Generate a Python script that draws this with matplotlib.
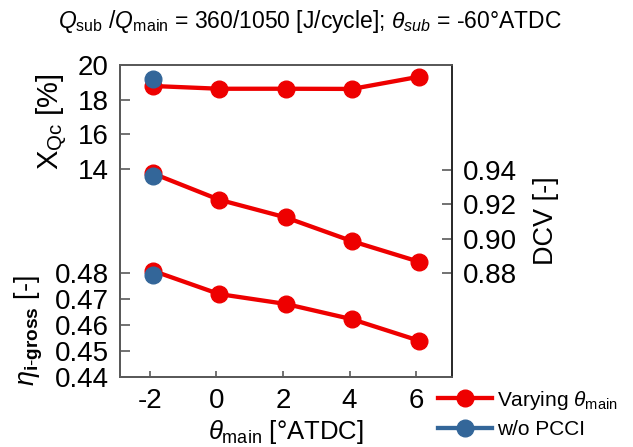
import matplotlib
matplotlib.use("Agg")
import matplotlib.pyplot as plt
from matplotlib.lines import Line2D

plt.rcParams['font.family'] = ['Liberation Sans', 'DejaVu Sans']
plt.rcParams['mathtext.fontset'] = 'custom'
plt.rcParams['mathtext.rm'] = 'Liberation Sans'
plt.rcParams['mathtext.it'] = 'Liberation Sans:italic'
plt.rcParams['mathtext.bf'] = 'Liberation Sans:bold'

# Data
theta_main = [-1.92, 0.08, 2.08, 4.08, 6.08]
xqc_vary = [18.79, 18.63, 18.63, 18.62, 19.32]
dcv_vary = [0.9381, 0.9227, 0.9124, 0.8985, 0.8866]
eta_vary = [0.4809, 0.4719, 0.4681, 0.4622, 0.4540]

theta_wo = [-1.92]
xqc_wo = [19.19]
dcv_wo = [0.9365]
eta_wo = [0.4791]

xticks = [-2, 0, 2, 4, 6]

RED = '#EE0000'
BLUE = '#336699'
SPINE = '#5A5A5A'

fig = plt.figure(figsize=(6.33, 4.47), dpi=100)
ax = fig.add_axes([120/633, 1 - 377/447, 332/633, 312/447])  # eta axis (left-bottom)
ax_x = ax.twinx()   # X_Qc axis (left-top)
ax_d = ax.twinx()   # DCV axis (right)

lw = 3.1
ms = 12

# eta
ax.plot(theta_main, eta_vary, '-o', color=RED, lw=lw, ms=ms, zorder=3)
ax.plot(theta_wo, eta_wo, 'o', color=BLUE, ms=ms, zorder=4)
ax.set_ylim(0.44, 0.56)
ax.set_yticks([0.44, 0.45, 0.46, 0.47, 0.48])
ax.set_yticklabels(['0.44', '0.45', '0.46', '0.47', '0.48'])

# X_Qc on left
ax_x.plot(theta_main, xqc_vary, '-o', color=RED, lw=lw, ms=ms, zorder=3)
ax_x.plot(theta_wo, xqc_wo, 'o', color=BLUE, ms=ms, zorder=4)
ax_x.set_ylim(2, 20)
ax_x.set_yticks([14, 16, 18, 20])
ax_x.yaxis.set_ticks_position('left')
ax_x.yaxis.set_label_position('left')

# DCV on right
ax_d.plot(theta_main, dcv_vary, '-o', color=RED, lw=lw, ms=ms, zorder=3)
ax_d.plot(theta_wo, dcv_wo, 'o', color=BLUE, ms=ms, zorder=4)
ax_d.set_ylim(0.8194, 1.0012)
ax_d.set_yticks([0.88, 0.90, 0.92, 0.94])
ax_d.set_yticklabels(['0.88', '0.90', '0.92', '0.94'])

ax.set_xlim(-2.9, 7.08)
ax.set_xticks(xticks)
ax.set_xticklabels([str(t) for t in xticks])

for a in (ax, ax_x, ax_d):
    a.tick_params(direction='in', length=7, width=1.2, color=SPINE,
                  labelsize=20, pad=8)
    for s in a.spines.values():
        s.set_color(SPINE)
        s.set_linewidth(1.2)
ax_d.spines['right'].set_color('#222222')
ax.tick_params(axis='x', pad=8, length=4)

ax.set_xlabel(r'$\theta_{\mathrm{main}}$ [°ATDC]', fontsize=18.5, labelpad=3)
ax.set_ylabel(r'$\eta_{\mathbf{i}\text{-}\mathbf{gross}}$ [-]', fontsize=19.5)
ax.yaxis.set_label_coords(-0.226, 0.15)
ax_x.set_ylabel(r'X$_{\mathrm{Qc}}$ [%]', fontsize=21)
ax_x.yaxis.set_label_coords(-0.15, 0.817)
ax_d.set_ylabel('DCV [-]', fontsize=19.5)
ax_d.yaxis.set_label_coords(1.244, 0.5)

fig.text(0.49, 0.951, r'$Q_{\mathrm{sub}}$ /$Q_{\mathrm{main}}$ = 360/1050 [J/cycle]; $\theta_{sub}$ = -60°ATDC',
         ha='center', va='center', fontsize=16.5)

handles = [Line2D([], [], color=RED, lw=lw, marker='o', ms=ms),
           Line2D([], [], color=BLUE, lw=lw, marker='o', ms=ms)]
fig.legend(handles, [r'Varying $\theta_{\mathrm{main}}$', 'w/o PCCI'],
           loc='lower left', bbox_to_anchor=(438/633, 0.018), frameon=False,
           fontsize=15, handlelength=2.6, labelspacing=0.4, borderpad=0.0,
           borderaxespad=0.0, handletextpad=0.24)

fig.savefig('out.png', dpi=100)
